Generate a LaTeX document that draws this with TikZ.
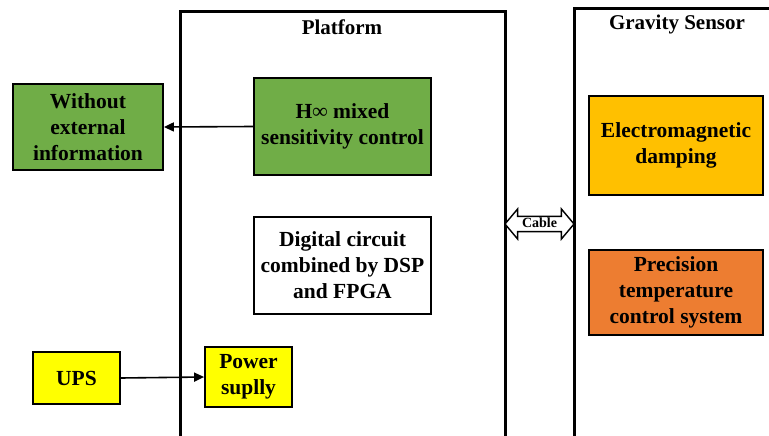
\documentclass[tikz,border=0pt]{standalone}
\usepackage{fontspec}
\setmainfont{Liberation Serif}
\usetikzlibrary{shapes.arrows,arrows.meta}
\definecolor{cgreen}{HTML}{70AD47}
\definecolor{cyellow}{HTML}{FFFF00}
\definecolor{corange}{HTML}{FFC000}
\definecolor{cred}{HTML}{ED7D31}
\tikzset{
  blk/.style={draw=black, line width=1.8pt, align=center, font=\bfseries\fontsize{21.5}{26}\selectfont, inner sep=1pt},
  frame/.style={draw=black, line width=3pt},
  conn/.style={-{Triangle[length=10pt,width=9pt]}, line width=1.6pt},
  ttl/.style={font=\bfseries\fontsize{21}{24}\selectfont}
}
\begin{document}
\begin{tikzpicture}[x=1pt,y=-1pt]
\useasboundingbox (0,0) rectangle (769,436);
\clip (0,0) rectangle (769,436);
% frames
\draw[frame] (180,450) -- (180,12) -- (505,12) -- (505,450);
\draw[frame] (574,450) -- (574,9) -- (780,9);
\node[ttl] (ptitle) at (342,27) {Platform};
\node[ttl] (gtitle) at (677,24) {Gravity Sensor};
% blocks
\node[blk, fill=cgreen, minimum width=150pt, minimum height=86pt] (without) at (88,127) {Without\\external\\information};
\node[blk, fill=cgreen, minimum width=177pt, minimum height=97pt] (hinf) at (342.5,126.5) {H∞ mixed\\sensitivity control};
\node[blk, fill=white, minimum width=177pt, minimum height=97pt] (digital) at (342.5,265.5) {Digital circuit\\combined by DSP\\and FPGA};
\node[blk, fill=cyellow, minimum width=87pt, minimum height=52pt] (ups) at (76.5,378) {UPS};
\node[blk, fill=cyellow, minimum width=87pt, minimum height=60pt] (power) at (248.5,377) {Power\\suplly};
\node[blk, fill=corange, minimum width=174pt, minimum height=99pt] (emd) at (676,145.5) {Electromagnetic\\damping};
\node[blk, fill=cred, minimum width=174pt, minimum height=85pt] (ptc) at (676,292.5) {Precision\\temperature\\control system};
% connectors
\draw[conn] (hinf.west) -- (without.east);
\draw[conn] (ups.east) -- (power.west);
% cable
\node[double arrow, draw=black, line width=1.4pt, fill=white, minimum height=69pt, minimum width=30pt, double arrow head extend=7pt, double arrow tip angle=100, inner sep=0pt, text height=10pt, text depth=3pt, font=\bfseries\fontsize{14}{14}\selectfont] (cable) at (539.5,224) {Cable};
\end{tikzpicture}
\end{document}
